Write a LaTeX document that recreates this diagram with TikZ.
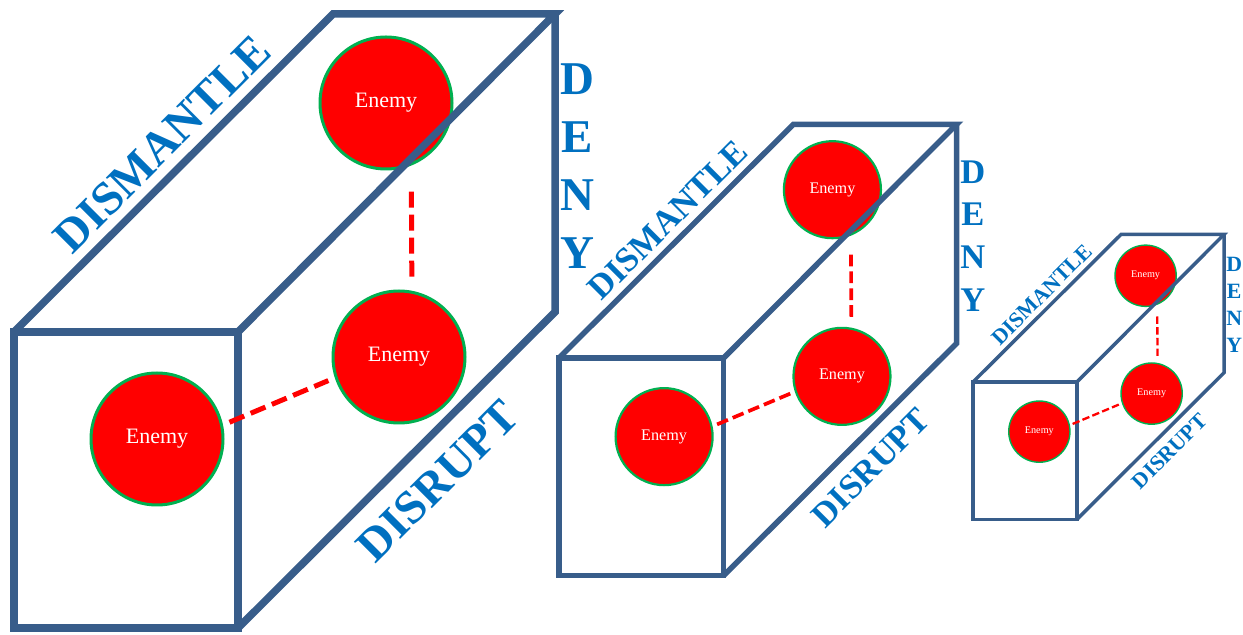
\documentclass[tikz,border=0pt]{standalone}
\usepackage{fontspec}
\setmainfont{Liberation Serif}
\usepackage{tikz}
\definecolor{edgeblue}{RGB}{56,93,138}
\definecolor{textblue}{RGB}{0,112,192}
\definecolor{ringgreen}{RGB}{0,176,80}
\tikzstyle{enemy}=[circle, draw=ringgreen, fill=red, text=white, minimum size=66pt, inner sep=0pt, font=\fontsize{11pt}{13pt}\selectfont]
\tikzstyle{lbl}=[text=textblue, inner sep=0pt, font=\fontsize{23.5pt}{29pt}\selectfont\bfseries]
\tikzstyle{edge}=[draw=edgeblue]
\tikzstyle{link}=[draw=red]

\begin{document}
\begin{tikzpicture}[x=0.5pt, y=-0.5pt]
\useasboundingbox (0,0) rectangle (1243,635);
\foreach \bx/\ox/\oy/\s in {1/14/332/1, 2/559/358/0.735, 3/973/382/0.464}{
  \pgfmathsetmacro\lw{3.75*\s}
  \pgfmathsetmacro\rw{1.5*\s}
  \pgfmathsetmacro\dw{2.5*\s}
  \pgfmathsetmacro\don{8*\s}
  \pgfmathsetmacro\doff{3.5*\s}
  \pgfmathsetmacro\sa{13*\s}
  \pgfmathsetmacro\sb{7*\s}
  \pgfmathsetmacro\sc{3.5*\s}
  \begin{scope}[shift={(\ox,\oy)}, scale=\s, transform shape]
    % enemies
    \node [enemy, line width=\rw pt] (front\bx) at (143,107) {Enemy};
    \node [enemy, line width=\rw pt] (mid\bx) at (385,25) {Enemy};
    \node [enemy, line width=\rw pt] (top\bx) at (372,-229) {Enemy};
    % box corners
    \coordinate (ftl\bx) at (0,0);
    \coordinate (ftr\bx) at (224,0);
    \coordinate (fbr\bx) at (224,296);
    \coordinate (btl\bx) at (319,-318);
    \coordinate (btr\bx) at (541,-318);
    \coordinate (bbr\bx) at (541,-20);
    \draw [edge, line width=\lw pt] (ftl\bx) rectangle (fbr\bx);
    \draw [edge, line width=\lw pt] (ftl\bx) -- (btl\bx) -- (btr\bx) -- (ftr\bx);
    \draw [edge, line width=\lw pt] (btr\bx) -- (bbr\bx) -- (fbr\bx);
    % labels
    \node [lbl, rotate=45] (dismantle\bx) at (148,-188) {DISMANTLE};
    \node [lbl, rotate=45] (disrupt\bx) at (424,149) {DISRUPT};
    \node [lbl, align=center] (deny\bx) at (563,-166) {D\\E\\N\\Y};
    % links
    \draw [link, line width=\dw pt, dash pattern=on \don pt off \doff pt, shorten <=\sa pt, shorten >=\sb pt] (top\bx.-68) -- (mid\bx.79);
    \draw [link, line width=\dw pt, dash pattern=on \don pt off \doff pt, shorten <=\sc pt, shorten >=\sc pt] (front\bx.12) -- (mid\bx.198);
  \end{scope}
}
\end{tikzpicture}
\end{document}
